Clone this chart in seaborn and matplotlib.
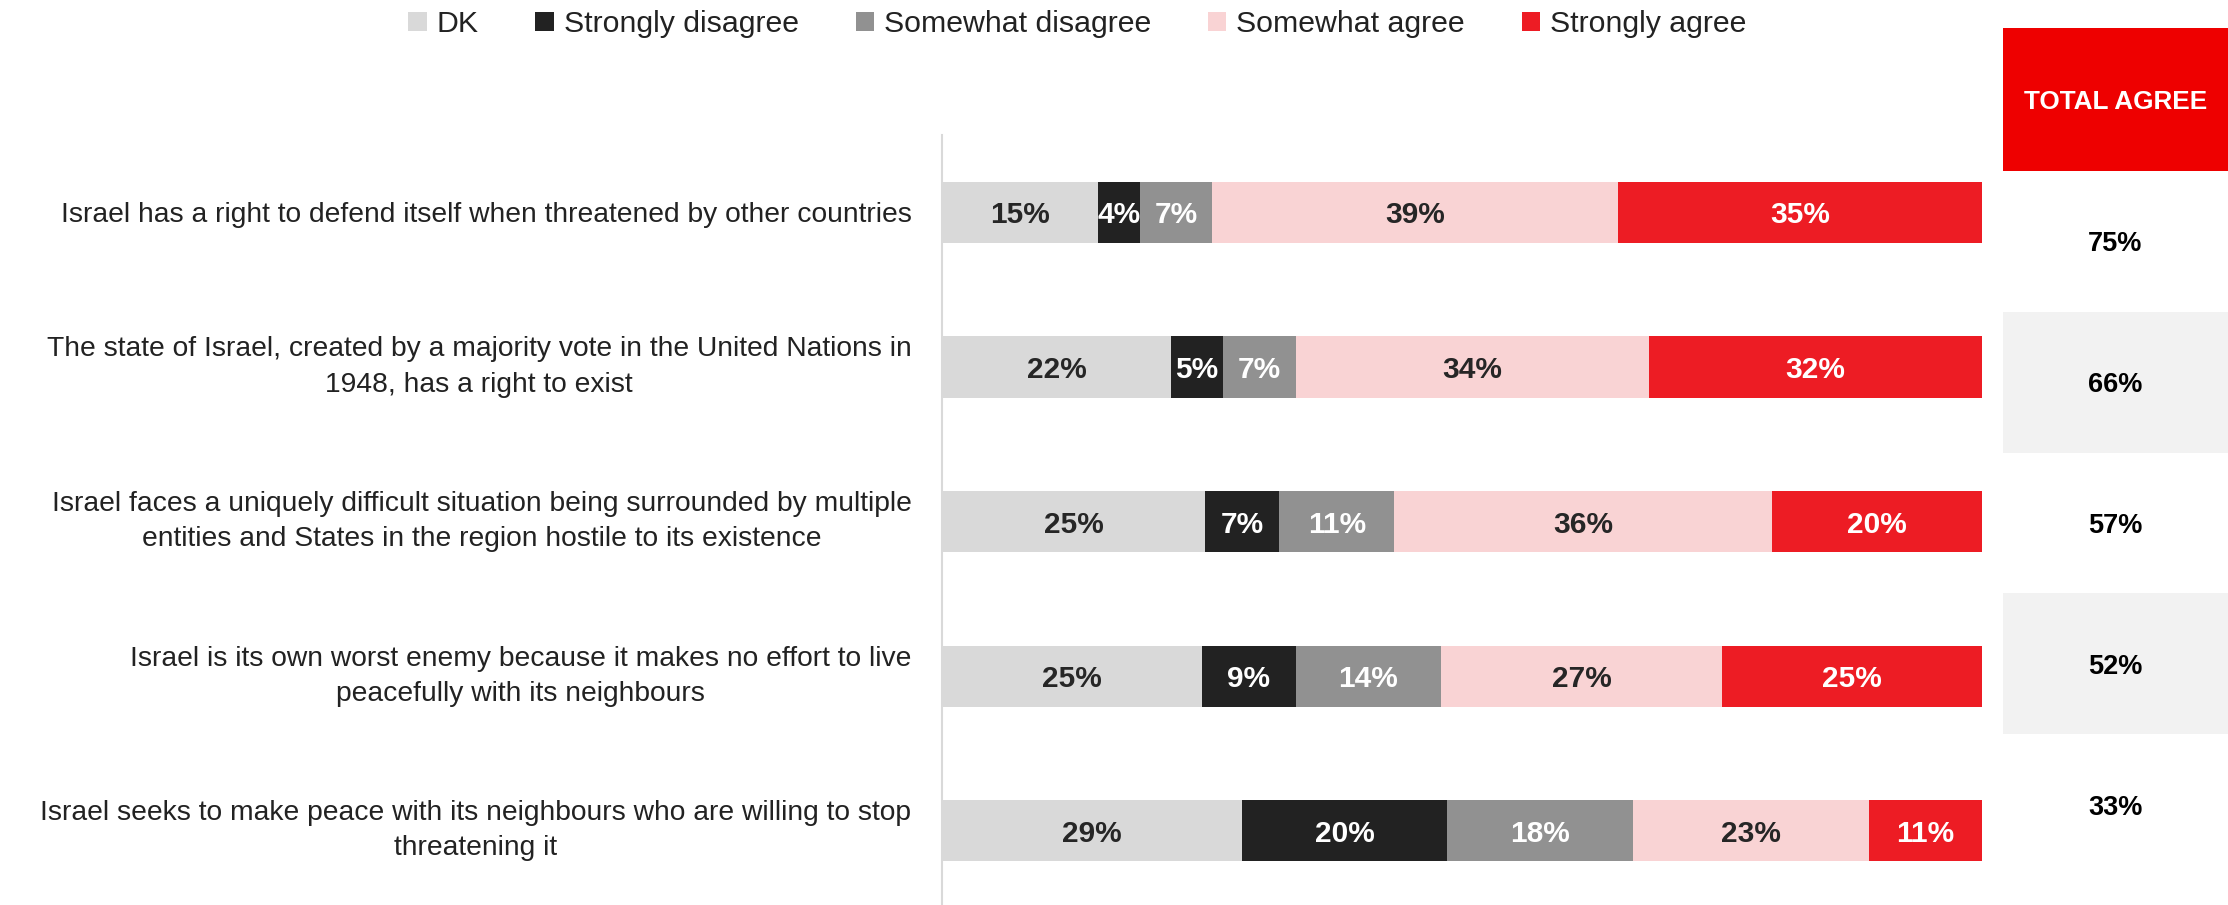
import numpy as np
import pandas as pd
import matplotlib
matplotlib.use("Agg")
import matplotlib.pyplot as plt
import seaborn as sns
from matplotlib.patches import Patch

# ---------------- data ----------------
statements = [
    "Israel has a right to defend itself when threatened by other countries",
    "The state of Israel, created by a majority vote in the United Nations in\n1948, has a right to exist",
    "Israel faces a uniquely difficult situation being surrounded by multiple\nentities and States in the region hostile to its existence",
    "Israel is its own worst enemy because it makes no effort to live\npeacefully with its neighbours",
    "Israel seeks to make peace with its neighbours who are willing to stop\nthreatening it",
]
series_names = ["DK", "Strongly disagree", "Somewhat disagree", "Somewhat agree", "Strongly agree"]
dk = [15, 22, 25.3, 25, 28.8]
strongly_disagree = [4, 5, 7.1, 9, 19.8]
somewhat_disagree = [7, 7, 11.1, 14, 17.8]
somewhat_agree = [39, 34, 36.3, 27, 22.7]
strongly_agree = [35, 32, 20.2, 25, 10.9]
total_agree = [75, 66, 57, 52, 33]
total_header = "TOTAL AGREE"

# ---------------- style ----------------
colors = ["#D9D9D9", "#222222", "#919191", "#F9D3D4", "#ED1C24"]
label_colors = ["#262626", "white", "white", "#262626", "white"]
text_color = "#222222"

sns.set_theme(style="white")
plt.rcParams["font.family"] = ["Liberation Sans", "DejaVu Sans"]

fig = plt.figure(figsize=(22.28, 9.05), dpi=100)
ax = fig.add_axes([0.4228, -0.0033, 0.4668, 0.854])

values = np.array([dk, strongly_disagree, somewhat_disagree, somewhat_agree, strongly_agree], dtype=float)
cum = np.cumsum(values, axis=0)

# stacked bars drawn as overlapping cumulative bars
for i in reversed(range(len(series_names))):
    df = pd.DataFrame({"statement": statements, "value": cum[i]})
    sns.barplot(data=df, x="value", y="statement", order=statements, orient="h",
                color=colors[i], saturation=1, width=0.395, linewidth=0, ax=ax)

for i in range(len(series_names)):
    for j in range(len(statements)):
        center = cum[i][j] - values[i][j] / 2
        ax.text(center, j, f"{round(values[i][j])}%", ha="center", va="center_baseline",
                fontsize=21.5, fontweight="bold", color=label_colors[i])

ax.set_xlim(0, 100)
ax.set_ylim(4.5, -0.5)
ax.set_xlabel("")
ax.set_ylabel("")
ax.set_xticks([])
for s in ["top", "right", "bottom"]:
    ax.spines[s].set_visible(False)
ax.spines["left"].set_color("#D9D9D9")
ax.spines["left"].set_linewidth(1.5)
ax.tick_params(axis="y", length=0, pad=22, labelsize=20.3, labelcolor=text_color)
for t in ax.get_yticklabels():
    t.set_multialignment("center")
    t.set_linespacing(1.46)
    if "\n" in t.get_text():
        t.set_verticalalignment("center")

# legend
handles = [Patch(facecolor=c, edgecolor="none", label=n) for c, n in zip(colors, series_names)]
fig.legend(handles=handles, loc="center", bbox_to_anchor=(0.4835, 0.9735), ncol=5,
           frameon=False, fontsize=21.8, handlelength=0.6, handleheight=0.6,
           handletextpad=0.33, columnspacing=1.88, labelcolor=text_color)

# total agree table
hdr = 1.016
ax2 = fig.add_axes([0.899, 0.03315, 0.101, 0.9359])
ax2.set_xlim(0, 1)
ax2.set_ylim(5.5, 0.5 - hdr)
ax2.axis("off")
ax2.barh(0.5 - hdr / 2, 1, height=hdr, left=0, color="#EE0000", linewidth=0)
for j in range(len(total_agree)):
    if j % 2 == 1:
        ax2.barh(j + 1, 1, height=1, left=0, color="#F2F2F2", linewidth=0)
ax2.text(0.5, 0.5 - hdr / 2, total_header, ha="center", va="center_baseline", fontsize=18.8,
         fontweight="bold", color="white")
for j, v in enumerate(total_agree):
    ax2.text(0.5, j + 1, f"{v}%", ha="center", va="center_baseline", fontsize=19.5,
             fontweight="bold", color="black")

fig.savefig("out.png", dpi=100)
